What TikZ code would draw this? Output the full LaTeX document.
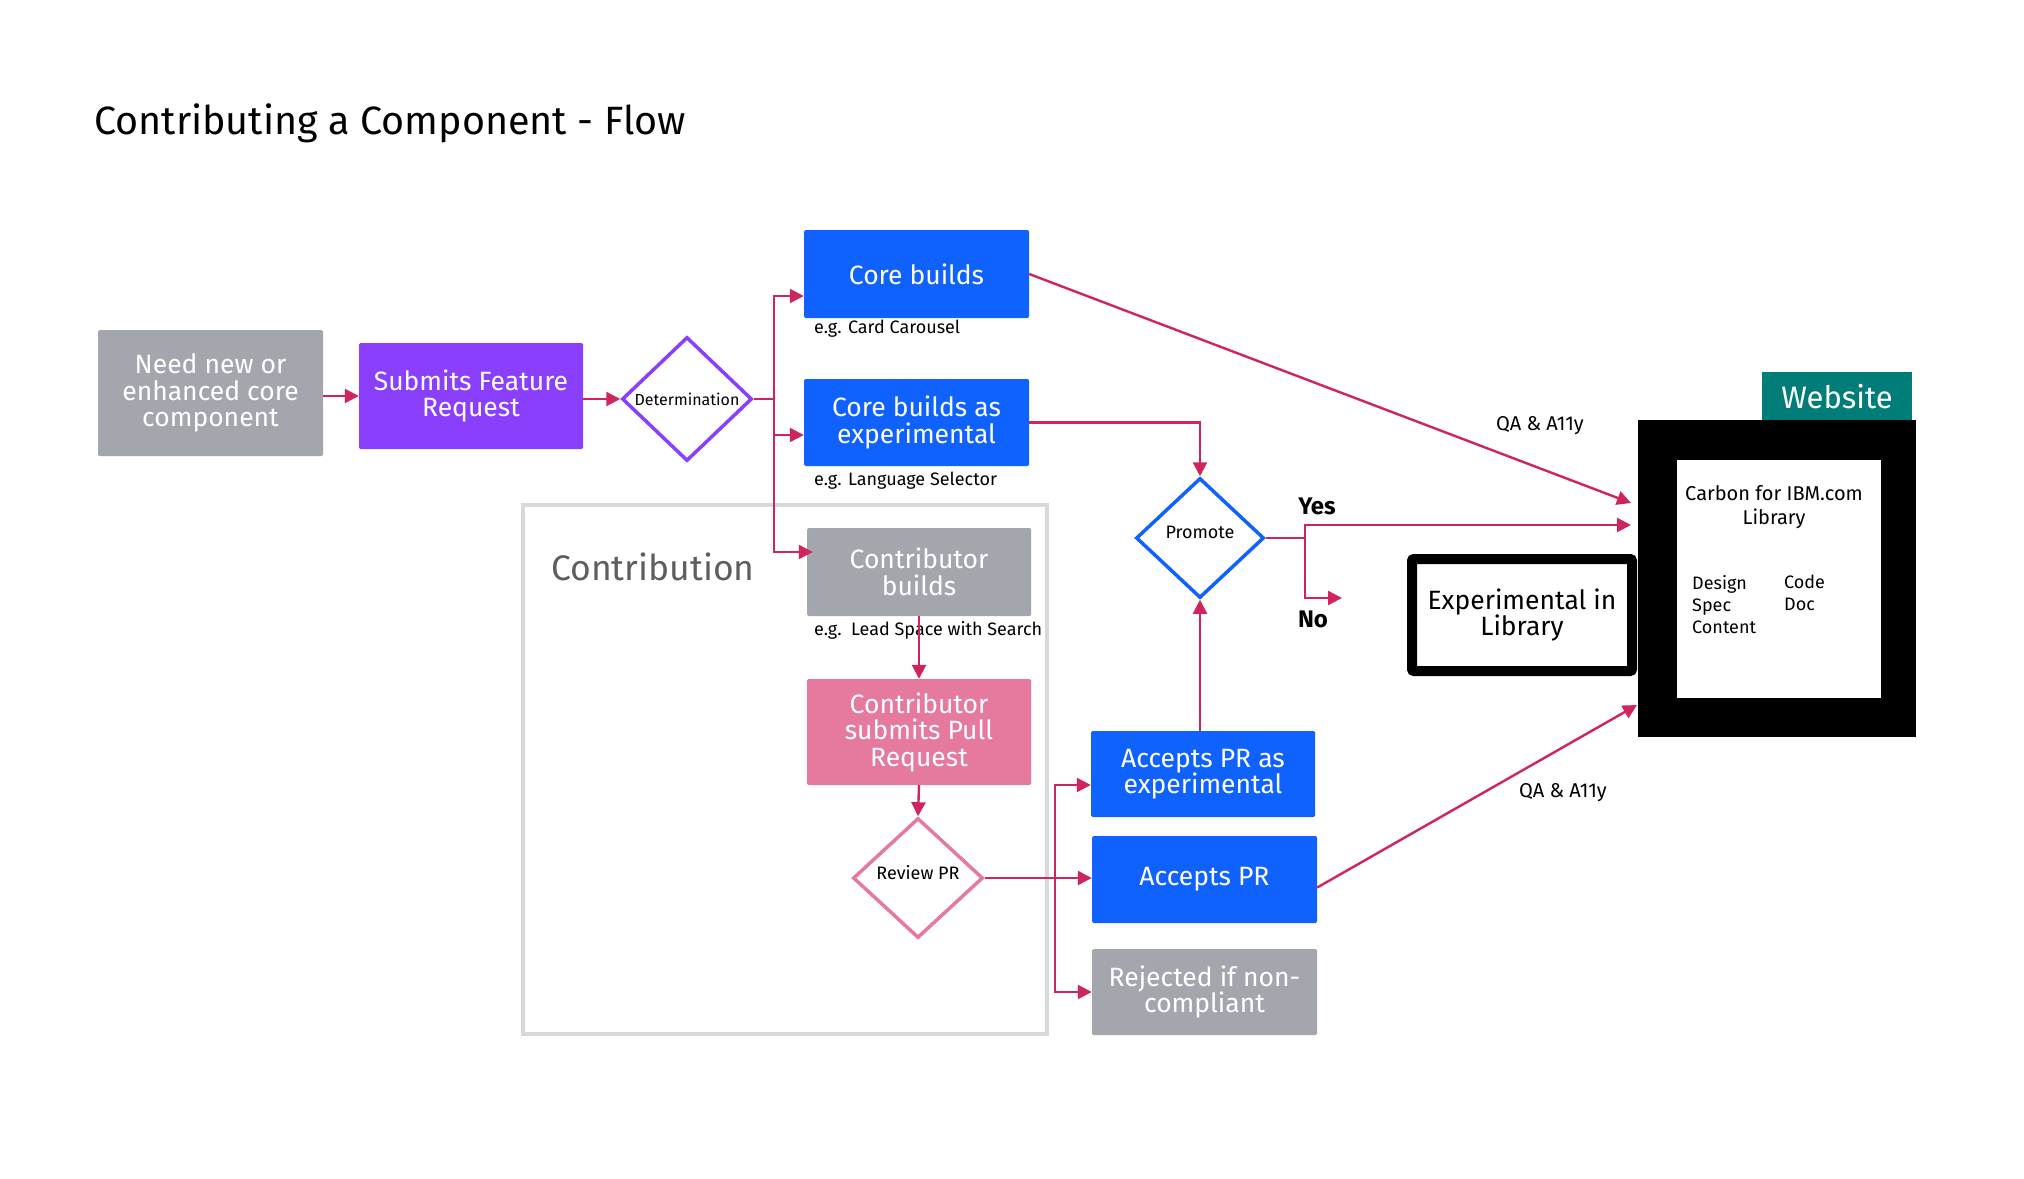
\documentclass[tikz,border=0pt]{standalone}
\usepackage{fontspec}
\setmainfont{Fira Sans}
\usetikzlibrary{shapes.geometric,arrows.meta,calc}
\definecolor{cgray}{HTML}{A3A7AD}
\definecolor{cpurple}{HTML}{8A3FFC}
\definecolor{cblue}{HTML}{0F62FE}
\definecolor{cpink}{HTML}{E57A9E}
\definecolor{cteal}{HTML}{007D79}
\definecolor{carrow}{HTML}{D0245E}
\definecolor{cframe}{HTML}{D9D9D9}
\definecolor{ctext}{HTML}{5E5E5E}
\tikzset{
  fbox/.style={rectangle, inner sep=0pt, text=white, align=center,
    font=\fontsize{26.5}{26.5}\selectfont, rounded corners=1.5pt},
  fdiam/.style={diamond, inner sep=0pt, fill=white, line width=3.5pt,
    font=\fontsize{16}{20}\selectfont},
  conn/.style={draw=carrow, line width=2.4pt, -{Triangle[length=14pt,width=14pt]}},
  plain/.style={draw=carrow, line width=2.4pt},
  smalltxt/.style={inner sep=0pt, anchor=west, font=\fontsize{18}{21}\selectfont},
  qalabel/.style={inner sep=0pt, font=\fontsize{20}{24}\selectfont},
  yn/.style={inner sep=0pt, font=\fontsize{24}{28}\selectfont\bfseries},
}
\begin{document}
\begin{tikzpicture}[x=1pt,y=-1pt]
\useasboundingbox (0,0) rectangle (2024,1178);
\fill[white] (0,0) rectangle (2024,1178);

% title
\node[inner sep=0pt, anchor=west, font=\fontsize{39.5}{46}\selectfont] (title) at (94,123) {Contributing a Component - Flow};

% contribution frame
\draw[cframe, line width=4pt] (523,505) rectangle (1047,1034);
\node[inner sep=0pt, anchor=west, text=ctext, font=\fontsize{35.5}{42}\selectfont] (contrib) at (551,567) {Contribution};

% boxes
\node[fbox, fill=cgray, minimum width=225pt, minimum height=126pt] (need) at (210.5,393) {Need new or\\enhanced core\\component};
\node[fbox, fill=cpurple, minimum width=224pt, minimum height=106pt] (submits) at (471,396) {Submits Feature\\Request};
\node[fdiam, draw=cpurple, minimum width=130pt, minimum height=124pt] (det) at (687,399) {Determination};
\node[fbox, fill=cblue, minimum width=225pt, minimum height=88pt] (core) at (916.5,274) {Core builds};
\node[fbox, fill=cblue, minimum width=225pt, minimum height=87pt] (coreexp) at (916.5,422.5) {Core builds as\\experimental};
\node[fbox, fill=cgray, minimum width=224pt, minimum height=88pt] (cbuilds) at (919,572) {Contributor\\builds};
\node[fbox, fill=cpink, minimum width=224pt, minimum height=106pt] (cpr) at (919,732) {Contributor\\submits Pull\\Request};
\node[fdiam, draw=cpink, minimum width=130pt, minimum height=120pt] (review) at (918,878) {};
\node[inner sep=0pt, font=\fontsize{18}{20}\selectfont] (reviewtxt) at (918,873) {Review PR};
\node[fbox, fill=cblue, minimum width=224pt, minimum height=86pt] (acceptexp) at (1203,774) {Accepts PR as\\experimental};
\node[fbox, fill=cblue, minimum width=225pt, minimum height=87pt] (accept) at (1204.5,879.5) {Accepts PR};
\node[fbox, fill=cgray, minimum width=225pt, minimum height=86pt] (rejected) at (1204.5,992) {Rejected if non-\\compliant};
\node[fdiam, draw=cblue, minimum width=128pt, minimum height=120pt] (promote) at (1200,538) {};
\node[inner sep=0pt, font=\fontsize{18}{20}\selectfont] (promotetxt) at (1200,532) {Promote};

% example labels
\node[smalltxt] (ex1) at (814,329) {e.g. Card Carousel};
\node[smalltxt] (ex2) at (814,481) {e.g. Language Selector};
\node[smalltxt] (ex3) at (814,630) {e.g.\ \ Lead Space with Search};

% experimental in library
\node[rectangle, draw=black, line width=10pt, fill=white, rounded corners=2pt, minimum width=220pt, minimum height=112pt,
  align=center, font=\fontsize{26.5}{26.5}\selectfont, inner sep=0pt] (explib) at (1522,615) {Experimental in\\Library};

% website
\node[rectangle, fill=cteal, minimum width=150pt, minimum height=50pt, inner sep=0pt, text=white,
  font=\fontsize{31}{36}\selectfont] (tab) at (1837,397) {Website};
\node[rectangle, fill=black, minimum width=278pt, minimum height=317pt, inner sep=0pt] (web) at (1777,578.5) {};
\node[rectangle, fill=white, minimum width=204pt, minimum height=238pt, inner sep=0pt] (webin) at (1779,578.5) {};
\node[inner sep=0pt, align=center, font=\fontsize{20}{23.5}\selectfont] (carbon) at (1774,507) {Carbon for IBM.com\\Library};
\node[inner sep=0pt, anchor=north west, align=left, font=\fontsize{18}{22}\selectfont] (design) at (1692,575) {Design\\Spec\\Content};
\node[inner sep=0pt, anchor=north west, align=left, font=\fontsize{18}{22}\selectfont] (code) at (1784,575) {Code\\Doc};

% free ends
\coordinate (w1) at (1631,503);
\coordinate (w2) at (1631,525);
\coordinate (w3) at (1637,705);
\coordinate (noend) at (1342,598);
\coordinate (tA) at (774,399);
\coordinate (tB) at (1305,538);
\coordinate (tC) at (1055,878);

% connectors
\draw[conn] (submits.west -| need.east) -- (submits.west);
\draw[conn] (det.west -| submits.east) -- (det.west);
\draw[plain] (det.east) -- (tA);
\draw[conn] (tA) |- ($(core.west)+(0,22)$);
\draw[conn] (tA) |- ($(coreexp.west)+(0,12.5)$);
\draw[conn] (tA) |- ($(cbuilds.west)+(6,-20)$);
\draw[conn] (core.east) -- (w1);
\draw[conn] (coreexp.east) -| (promote.north);
\draw[plain] (promote.east) -- (tB);
\draw[conn] (tB) |- (w2);
\draw[conn] (tB) |- (noend);
\draw[conn] (cbuilds.south) -- (cpr.north);
\draw[conn] (cpr.south) -- (review.north);
\draw[conn] (review.east) -- (review.east -| accept.west);
\draw[conn] (tC) |- ($(acceptexp.west)+(0,11)$);
\draw[conn] (tC) |- (rejected.west);
\draw[conn] (acceptexp.north -| promote.south) -- (promote.south);
\draw[conn] ($(accept.east)+(0,8)$) -- (w3);

% connector labels
\node[qalabel] (qa1) at (1540,426) {QA \& A11y};
\node[qalabel] (qa2) at (1563,793) {QA \& A11y};
\node[yn] (yes) at (1317,506) {Yes};
\node[yn] (no) at (1313,619) {No};
\end{tikzpicture}
\end{document}
